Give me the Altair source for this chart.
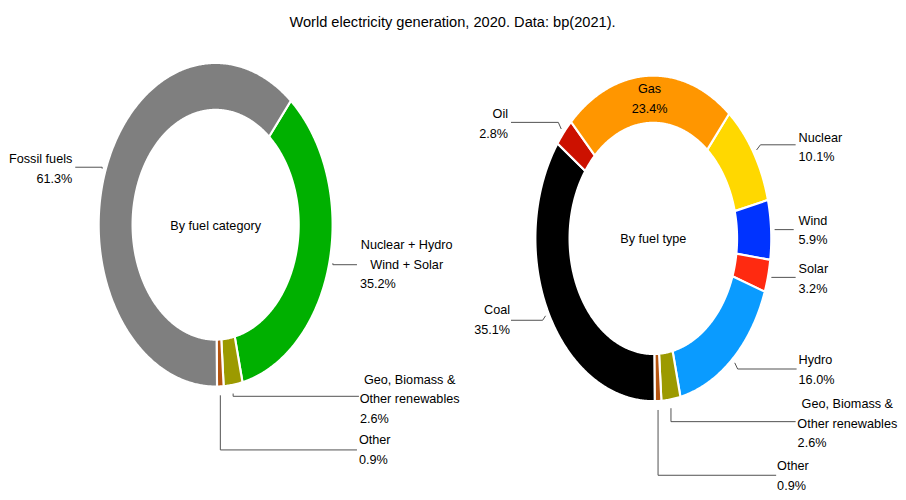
import math
import numpy as np
import pandas as pd
import altair as alt

# ---------------- data (clockwise order, starting at the top-right boundary) ----
cat_names = ["Nuclear + Hydro\nWind + Solar", "Geo, Biomass &\nOther renewables", "Other", "Fossil fuels"]
cat_values = [35.2, 2.6, 0.9, 61.3]
cat_colors = ["#00B000", "#9C9A00", "#B5540F", "#7F7F7F"]

type_names = ["Nuclear", "Wind", "Solar", "Hydro", "Geo, Biomass &\nOther renewables",
              "Other", "Coal", "Oil", "Gas"]
type_values = [10.1, 5.9, 3.2, 16.0, 2.6, 0.9, 35.1, 2.8, 23.4]
type_colors = ["#FFD800", "#0033FF", "#FF2A10", "#0A9BFF", "#9C9A00",
               "#B5540F", "#000000", "#CC1100", "#FF9600"]

title_text = "World electricity generation, 2020. Data: bp(2021)."
center_texts = ["By fuel category", "By fuel type"]

# ---------------- layout (positions / sizes only) -------------------------------
FONT = "Liberation Sans"
START_DEG = 40.0
INNER = 0.71
DONUTS = [
    dict(key="L", cx=210, cy=224, rx=120, ry=166),
    dict(key="R", cx=659, cy=238, rx=121, ry=167),
]
LINE_GAP = 20
# per label: text x, first-line y, align, centre-x of name lines (or None),
# leader kind, leader y, leader end x, tick dx
LAYOUT = {
    ("L", 0): dict(x=358, y=245, align="left", ncx=406, kind="side", ly=265, lx=355, dx=0),
    ("L", 1): dict(x=358, y=383, align="left", ncx=409, kind="bottom", ly=400, lx=357, dx=0),
    ("L", 2): dict(x=357, y=445, align="left", ncx=None, kind="bottom", ly=455, lx=355, dx=0),
    ("L", 3): dict(x=63, y=157, align="right", ncx=None, kind="side", ly=165, lx=66, dx=0),
    ("R", 0): dict(x=808, y=135, align="left", ncx=None, kind="side", ly=142, lx=805, dx=4),
    ("R", 1): dict(x=808, y=220, align="left", ncx=None, kind="side", ly=229, lx=803, dx=0),
    ("R", 2): dict(x=808, y=270, align="left", ncx=None, kind="side", ly=278, lx=805, dx=0),
    ("R", 3): dict(x=808, y=363, align="left", ncx=None, kind="side", ly=372, lx=806, dx=3),
    ("R", 4): dict(x=807, y=408, align="left", ncx=858, kind="bottom", ly=426, lx=805, dx=0),
    ("R", 5): dict(x=786, y=472, align="left", ncx=None, kind="bottom", ly=481, lx=785, dx=0),
    ("R", 6): dict(x=512, y=312, align="right", ncx=None, kind="side", ly=322, lx=513, dx=-3),
    ("R", 7): dict(x=510, y=111, align="right", ncx=None, kind="side", ly=119, lx=513, dx=-3),
    ("R", 8): dict(kind="inside"),
}


def ell(d, ang, k):
    a = math.radians(ang)
    return d["cx"] + d["rx"] * k * math.sin(a), d["cy"] - d["ry"] * k * math.cos(a)


poly_rows, lead_rows, text_rows = [], [], []
all_ids, all_colors = [], []
for d, names, values, colors in zip(DONUTS, [cat_names, type_names],
                                    [cat_values, type_values], [cat_colors, type_colors]):
    total = sum(values)
    a = START_DEG
    for j, (nm, v, col) in enumerate(zip(names, values, colors)):
        sid = f"{d['key']}{j}"
        all_ids.append(sid)
        all_colors.append(col)
        span = 360.0 * v / total
        a0, a1 = a, a + span
        n = max(3, int(span / 0.5) + 1)
        angs = np.linspace(a0, a1, n)
        pts = [ell(d, t, 1.0) for t in angs] + [ell(d, t, INNER) for t in angs[::-1]]
        for i, (x, y) in enumerate(pts):
            poly_rows.append(dict(seg=sid, i=i, x=x, y=y))
        mid = (a0 + a1) / 2
        a = a1

        lay = LAYOUT[(d["key"], j)]
        name_lines = nm.split("\n")
        pct = f"{v:.1f}%"
        if lay["kind"] == "inside":
            tx, ty = ell(d, mid, (1 + INNER) / 2)
            for k, s in enumerate(name_lines + [pct]):
                text_rows.append(dict(t=s, x=tx, y=ty - LINE_GAP / 2 + k * LINE_GAP, al="center", fs=13))
            continue
        for k, s in enumerate(name_lines):
            if lay["ncx"] is not None:
                text_rows.append(dict(t=s, x=lay["ncx"], y=lay["y"] + k * LINE_GAP, al="center", fs=13))
            else:
                text_rows.append(dict(t=s, x=lay["x"], y=lay["y"] + k * LINE_GAP, al=lay["align"], fs=13))
        text_rows.append(dict(t=pct, x=lay["x"], y=lay["y"] + len(name_lines) * LINE_GAP,
                              al=lay["align"], fs=13))
        if lay["kind"] == "side":
            p0 = ell(d, mid, 1.03)
            p1 = (p0[0] + lay["dx"], lay["ly"])
        else:
            p0 = (ell(d, mid, 1.0)[0], ell(d, mid, 1.055)[1])
            p1 = (p0[0], lay["ly"])
        p2 = (lay["lx"], lay["ly"])
        for i, (x, y) in enumerate([p0, p1, p2]):
            lead_rows.append(dict(lid=sid, i=i, x=x, y=y))

for d, s in zip(DONUTS, center_texts):
    text_rows.append(dict(t=s, x=d["cx"], y=d["cy"] + 1, al="center", fs=13))
text_rows.append(dict(t=title_text, x=453, y=16, al="center", fs=15))

poly = pd.DataFrame(poly_rows)
lead = pd.DataFrame(lead_rows)
texts = pd.DataFrame(text_rows)

X = alt.X("x:Q", scale=alt.Scale(domain=[8, 898], nice=False, zero=False), axis=None)
Y = alt.Y("y:Q", scale=alt.Scale(domain=[8, 492], nice=False, zero=False, reverse=True), axis=None)

rings = alt.Chart(poly).mark_line(
    interpolate="linear-closed", stroke="white", strokeWidth=2.2, strokeJoin="miter"
).encode(
    x=X, y=Y,
    fill=alt.Fill("seg:N", scale=alt.Scale(domain=all_ids, range=all_colors), legend=None),
    detail="seg:N",
    order="i:Q",
)

leaders = alt.Chart(lead).mark_line(color="#4D4D4D", strokeWidth=1).encode(
    x=X, y=Y, detail="lid:N", order="i:Q"
)

layers = [rings, leaders]
for al in ["left", "right", "center"]:
    layers.append(
        alt.Chart(texts).transform_filter(alt.datum.al == al).mark_text(
            font=FONT, align=al, baseline="middle", color="black"
        ).encode(x=X, y=Y, text="t:N", size=alt.Size("fs:Q", scale=None, legend=None))
    )

chart = alt.layer(*layers).properties(
    width=890, height=484, padding=0
).configure_view(stroke=None)

chart.save("out.html", embed_options={"renderer": "svg", "actions": False})
